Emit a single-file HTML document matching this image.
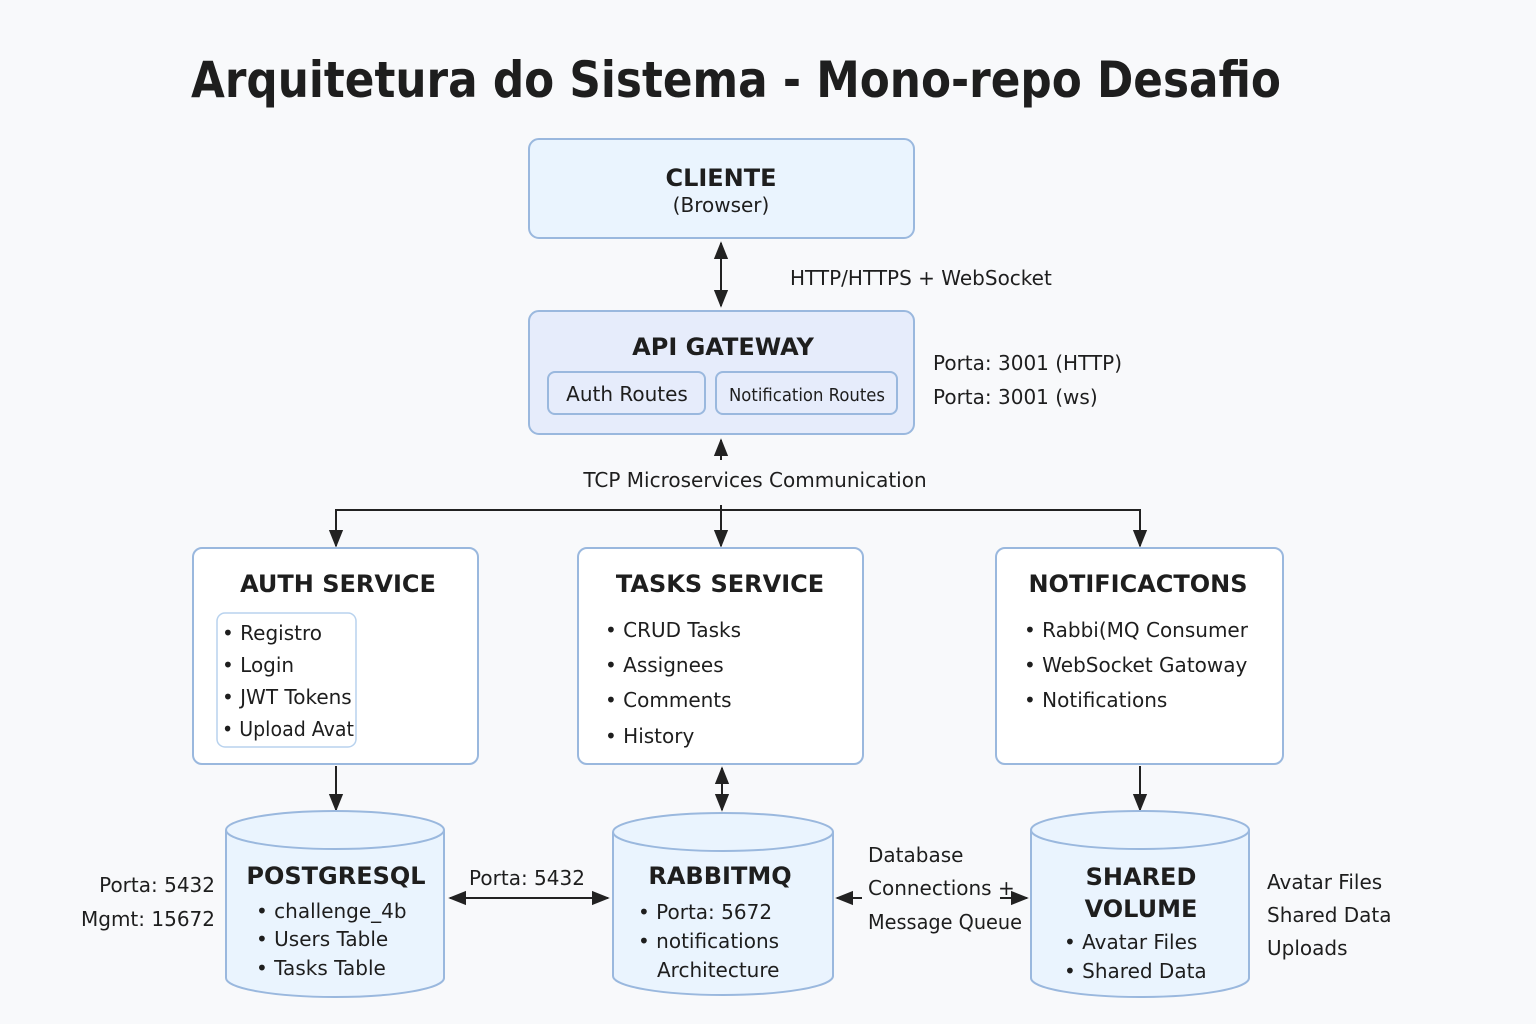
<!DOCTYPE html>
<html><head><meta charset="utf-8"><style>
html,body{margin:0;padding:0;background:#f8f9fb}
svg{display:block}
text{font-family:"DejaVu Sans","Liberation Sans",sans-serif;fill:#1e1e1e}
.t{font-weight:bold;font-size:24px}
.b{font-size:20px}
</style></head><body>
<svg width="1536" height="1024" viewBox="0 0 1536 1024" xmlns="http://www.w3.org/2000/svg">
<defs>
<marker id="a" viewBox="0 0 10 10" refX="9" refY="5" markerWidth="9" markerHeight="9" orient="auto-start-reverse"><path d="M0,1 L10,5 L0,9 z" fill="#222"/></marker>
</defs>
<rect width="1536" height="1024" fill="#f8f9fb"/>
<text x="736" y="97" text-anchor="middle" style="font-size:50px;font-weight:bold" textLength="1090" lengthAdjust="spacingAndGlyphs">Arquitetura do Sistema - Mono-repo Desafio</text>

<rect x="529" y="139" width="385" height="99" rx="10" fill="#eaf4fe" stroke="#9ab8de" stroke-width="2"/>
<text x="721" y="186" text-anchor="middle" class="t">CLIENTE</text>
<text x="721" y="212" text-anchor="middle" class="b">(Browser)</text>

<line x1="721" y1="243" x2="721" y2="306" stroke="#222" stroke-width="2" marker-start="url(#a)" marker-end="url(#a)"/>
<text x="790" y="285" class="b">HTTP/HTTPS + WebSocket</text>

<rect x="529" y="311" width="385" height="123" rx="10" fill="#e6ecfb" stroke="#9ab8de" stroke-width="2"/>
<text x="723" y="355" text-anchor="middle" class="t">API GATEWAY</text>
<rect x="548" y="372" width="157" height="42" rx="7" fill="#e6ecfb" stroke="#9ab8de" stroke-width="2"/>
<text x="627" y="401" text-anchor="middle" class="b">Auth Routes</text>
<rect x="716" y="372" width="181" height="42" rx="7" fill="#e6ecfb" stroke="#9ab8de" stroke-width="2"/>
<text x="807" y="401" text-anchor="middle" style="font-size:18px" textLength="156" lengthAdjust="spacingAndGlyphs">Notification Routes</text>
<text x="933" y="370" class="b">Porta: 3001 (HTTP)</text>
<text x="933" y="404" class="b">Porta: 3001 (ws)</text>

<line x1="721" y1="460" x2="721" y2="440" stroke="#222" stroke-width="2" marker-end="url(#a)"/>
<text x="755" y="487" text-anchor="middle" class="b">TCP Microservices Communication</text>
<path d="M336,510 H1140" stroke="#222" stroke-width="2" fill="none"/>
<line x1="721" y1="505" x2="721" y2="546" stroke="#222" stroke-width="2" marker-end="url(#a)"/>
<line x1="336" y1="509" x2="336" y2="546" stroke="#222" stroke-width="2" marker-end="url(#a)"/>
<line x1="1140" y1="509" x2="1140" y2="546" stroke="#222" stroke-width="2" marker-end="url(#a)"/>

<rect x="193" y="548" width="285" height="216" rx="9" fill="#fff" stroke="#9ab8de" stroke-width="2"/>
<text x="338" y="592" text-anchor="middle" class="t">AUTH SERVICE</text>
<rect x="217" y="613" width="139" height="134" rx="8" fill="#fff" stroke="#b8d2ee" stroke-width="1.5"/>
<text x="222" y="640" class="b">• Registro</text>
<text x="222" y="672" class="b">• Login</text>
<text x="222" y="704" class="b">• JWT Tokens</text>
<text x="222" y="736" class="b" textLength="132" lengthAdjust="spacingAndGlyphs">• Upload Avat</text>

<rect x="578" y="548" width="285" height="216" rx="9" fill="#fff" stroke="#9ab8de" stroke-width="2"/>
<text x="720" y="592" text-anchor="middle" class="t">TASKS SERVICE</text>
<text x="605" y="637" class="b">• CRUD Tasks</text>
<text x="605" y="672" class="b">• Assignees</text>
<text x="605" y="707" class="b">• Comments</text>
<text x="605" y="743" class="b">• History</text>

<rect x="996" y="548" width="287" height="216" rx="9" fill="#fff" stroke="#9ab8de" stroke-width="2"/>
<text x="1138" y="592" text-anchor="middle" class="t">NOTIFICACTONS</text>
<text x="1024" y="637" class="b">• Rabbi(MQ Consumer</text>
<text x="1024" y="672" class="b">• WebSocket Gatoway</text>
<text x="1024" y="707" class="b">• Notifications</text>

<line x1="336" y1="766" x2="336" y2="810" stroke="#222" stroke-width="2" marker-end="url(#a)"/>
<line x1="722" y1="768" x2="722" y2="810" stroke="#222" stroke-width="2" marker-start="url(#a)" marker-end="url(#a)"/>
<line x1="1140" y1="766" x2="1140" y2="810" stroke="#222" stroke-width="2" marker-end="url(#a)"/>

<g fill="#eaf4fe" stroke="#9ab8de" stroke-width="2">
<path d="M226,830 V978 A109,19 0 0 0 444,978 V830"/>
<ellipse cx="335" cy="830" rx="109" ry="19"/>
<path d="M613,832 V976 A110,19 0 0 0 833,976 V832"/>
<ellipse cx="723" cy="832" rx="110" ry="19"/>
<path d="M1031,830 V978 A109,19 0 0 0 1249,978 V830"/>
<ellipse cx="1140" cy="830" rx="109" ry="19"/>
</g>
<text x="336" y="884" text-anchor="middle" class="t">POSTGRESQL</text>
<text x="256" y="918" class="b">• challenge_4b</text>
<text x="256" y="946" class="b">• Users Table</text>
<text x="256" y="975" class="b">• Tasks Table</text>
<text x="215" y="892" text-anchor="end" class="b">Porta: 5432</text>
<text x="215" y="926" text-anchor="end" class="b">Mgmt: 15672</text>

<line x1="450" y1="898" x2="608" y2="898" stroke="#222" stroke-width="2" marker-start="url(#a)" marker-end="url(#a)"/>
<text x="527" y="885" text-anchor="middle" class="b">Porta: 5432</text>

<text x="720" y="884" text-anchor="middle" class="t">RABBITMQ</text>
<text x="638" y="919" class="b">• Porta: 5672</text>
<text x="638" y="948" class="b">• notifications</text>
<text x="657" y="977" class="b">Architecture</text>

<line x1="862" y1="898" x2="837" y2="898" stroke="#222" stroke-width="2" marker-end="url(#a)"/>
<line x1="1000" y1="898" x2="1027" y2="898" stroke="#222" stroke-width="2" marker-end="url(#a)"/>
<text x="868" y="862" class="b">Database</text>
<text x="868" y="895" class="b">Connections +</text>
<text x="868" y="929" class="b" textLength="154" lengthAdjust="spacingAndGlyphs">Message Queue</text>

<text x="1141" y="885" text-anchor="middle" class="t">SHARED</text>
<text x="1141" y="917" text-anchor="middle" class="t">VOLUME</text>
<text x="1064" y="949" class="b">• Avatar Files</text>
<text x="1064" y="978" class="b">• Shared Data</text>
<text x="1267" y="889" class="b">Avatar Files</text>
<text x="1267" y="922" class="b">Shared Data</text>
<text x="1267" y="955" class="b">Uploads</text>
</svg>
</body></html>
